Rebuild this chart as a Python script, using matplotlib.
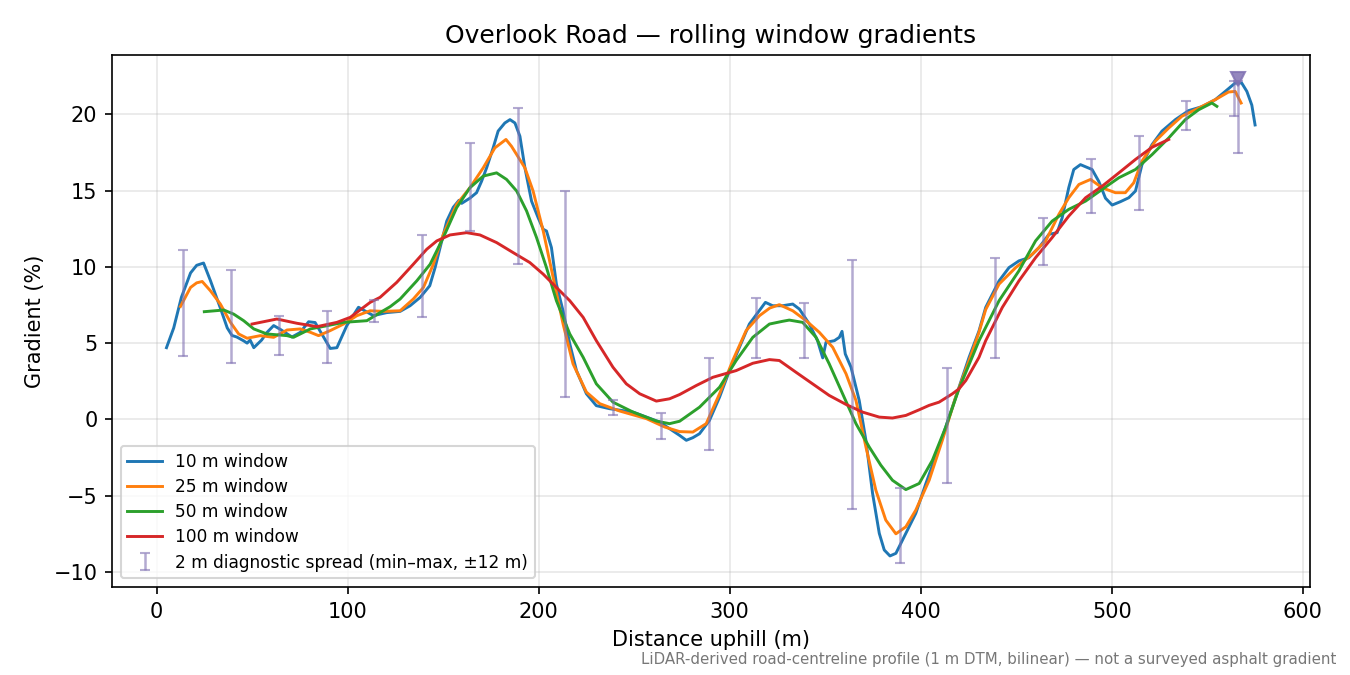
import numpy as np
import matplotlib
matplotlib.use("Agg")
import matplotlib.pyplot as plt

# 10 m window
d10 = [5.2, 9, 13, 17.8, 21, 24.6, 28.2, 33.4, 37, 39.5, 42, 45.6, 47.4, 49, 50.9, 55, 57.8, 61.3,
       64.8, 70.9, 75.2, 79.6, 83, 87.4, 90.9, 94.4, 99.6, 105.7, 113.5, 117, 120.5, 127.5, 132.7,
       138, 143, 145.8, 148.4, 151.9, 155.3, 158.3, 159.7, 164, 167.5, 170.1, 172.8, 176.2, 178.8,
       182.3, 185, 187.6, 190.2, 192.8, 196.3, 199.8, 202.4, 204.1, 206.7, 209.3, 212.8, 216.3,
       219.8, 225, 230.2, 237.2, 249.4, 263.3, 273.8, 277.3, 280.7, 284.2, 289.4, 294.7, 299.9,
       305.1, 310.3, 314.7, 318.7, 322.5, 327.7, 333, 336.5, 341.7, 346, 348.7, 350.4, 354.8,
       357.4, 358.8, 360.5, 363.5, 367.8, 371.3, 374.8, 378.3, 380.9, 383.9, 387, 392.2, 397.4,
       402.7, 409.6, 414.8, 420, 425.3, 430.5, 434, 441, 446.2, 451.4, 456.6, 461.9, 467.1,
       471.4, 474, 477.5, 480.1, 483.6, 489.7, 493.2, 496.7, 500.2, 504.5, 508.9, 512.4, 515.8,
       521, 526.3, 533.3, 540.2, 547.2, 554.2, 559.4, 564.6, 568, 570.7, 573.3, 575]
g10 = [4.7, 6.0, 8.0, 9.6, 10.1, 10.25, 9.1, 7.3, 6.0, 5.5, 5.4, 5.15, 5.0, 5.2, 4.7, 5.2, 5.7, 6.15,
       5.9, 5.4, 5.7, 6.4, 6.35, 5.4, 4.65, 4.7, 6.15, 7.35, 6.8, 6.9, 7.0, 7.08, 7.45,
       8.0, 8.76, 9.95, 11.26, 13.0, 13.9, 14.36, 14.16, 14.5, 14.86, 15.6, 16.5, 17.8, 18.9,
       19.43, 19.65, 19.43, 18.56, 16.5, 14.3, 13.2, 12.46, 12.35, 11.26, 8.87, 7.1, 4.95,
       3.2, 1.68, 0.9, 0.7, 0.48, -0.17, -1.05, -1.37, -1.2, -0.94, -0.07, 1.46, 3.2,
       4.73, 6.25, 7.0, 7.67, 7.45, 7.45, 7.56, 7.23, 6.25, 5.16, 4.03, 5.05, 5.16,
       5.38, 5.77, 4.29, 3.42, 1.24, -1.37, -4.86, -7.47, -8.56, -8.95, -8.78, -7.47, -6.16,
       -4.2, -1.8, 0.15, 2.1, 4.07, 5.8, 7.34, 9.08, 9.95, 10.39, 10.6, 11.26, 12.13,
       12.24, 13.2, 15.2, 16.38, 16.7, 16.38, 15.6, 14.5, 14.05, 14.27, 14.53, 14.97, 16.7,
       18.0, 18.9, 19.65, 20.24, 20.5, 20.96, 21.5, 22.05, 22.05, 21.5, 20.6, 19.3]

# 25 m window
d25 = [12.5, 17.8, 21, 23.9, 28.2, 33.4, 38.7, 43, 47.4, 54.3, 61.3, 68.3, 75.2, 80.5, 84.8, 90.9,
       97.9, 104.9, 111.8, 118.8, 127.5, 134.4, 139.7, 144.9, 150.1, 157.1, 164, 171, 177.1,
       182.9, 185.8, 188.5, 192.8, 197.1, 202.4, 207.6, 212.8, 218, 225, 232, 242.4, 256.4, 266,
       273.8, 280.7, 287.7, 294.7, 301.6, 308.6, 315.6, 321, 326, 333, 340, 346.9, 353.9, 360.9,
       366.1, 371.3, 376.5, 381.7, 387, 392.2, 397.4, 404.4, 411.3, 418.3, 425.3, 430.5, 434,
       441, 449.7, 458.4, 465.4, 472.3, 477.5, 482.8, 488.9, 495, 501.9, 507.1, 511.5, 515.8,
       522.8, 529.8, 536.7, 545.5, 554.2, 561.1, 564.6, 567.7]
g25 = [7.4, 8.65, 8.95, 9.04, 8.43, 7.56, 6.36, 5.6, 5.32, 5.49, 5.38, 5.86, 5.93, 5.71, 5.49, 5.82,
       6.25, 6.8, 7.12, 7.08, 7.12, 7.89, 8.65, 10.17, 12.13, 14.1, 15.18, 16.49, 17.8,
       18.35, 17.9, 17.36, 16.49, 14.97, 12.35, 9.3, 6.25, 3.64, 1.79, 1.03, 0.55, 0.05, -0.5,
       -0.8, -0.83, -0.28, 1.68, 3.86, 5.82, 6.8, 7.3, 7.52, 7.12, 6.47, 5.71, 4.73, 2.99,
       1.24, -1.8, -4.64, -6.6, -7.5, -7.04, -5.95, -3.99, -1.37, 1.46, 3.86, 5.71, 7.2,
       8.87, 9.95, 10.83, 11.7, 13.44, 14.53, 15.4, 15.73, 15.18, 14.86, 14.86, 15.51, 16.93,
       18.24, 19.1, 19.87, 20.41, 20.96, 21.46, 21.5, 20.74]

# 50 m window
d50 = [25, 35.2, 40.4, 45.6, 50.9, 57.8, 68.3, 71.7, 80.5, 89.2, 97.9, 110.1, 117, 122.3, 127.5,
       136.2, 143.2, 150.1, 157.1, 164, 171, 178, 183.2, 188.5, 193.7, 198.9, 204.1, 209.3,
       216.3, 223.3, 230.2, 238.9, 249.4, 261.6, 268.5, 273.8, 284.2, 294.7, 303.4, 312.1,
       320.8, 327.7, 331.2, 338.2, 345.2, 352.1, 359.1, 366.1, 373, 379.1, 385.2, 392.2, 399.2,
       406.1, 413.1, 420, 430.5, 441, 451.4, 460.1, 468.8, 477.5, 486.3, 495, 503.7, 512.4,
       521.1, 529.8, 538.5, 545.5, 552.4, 555]
g50 = [7.06, 7.17, 6.9, 6.47, 5.93, 5.6, 5.49, 5.38, 5.93, 6.14, 6.36, 6.47, 7.0, 7.39, 7.89,
       9.08, 10.17, 11.92, 13.88, 15.18, 15.95, 16.16, 15.73, 14.97, 13.66, 11.92, 9.95, 7.78,
       5.6, 4.07, 2.33, 1.13, 0.48, -0.11, -0.28, -0.12, 0.8, 2.11, 3.86, 5.38,
       6.25, 6.43, 6.51, 6.36, 5.38, 3.64, 1.68, -0.28, -1.8, -3.0, -3.99, -4.6, -4.2,
       -2.68, -0.5, 2.0, 5.16, 7.78, 9.74, 11.7, 13.0, 13.77, 14.31, 15.08, 15.84, 16.38,
       17.36, 18.45, 19.65, 20.3, 20.74, 20.52]

# 100 m window
d100 = [50, 63, 73.5, 84, 94.4, 101.4, 111.8, 117, 125.7, 134.4, 141.4, 146.7, 153.6, 162.3, 169.3,
        178, 186.7, 195.4, 202.4, 209.3, 216.3, 223.3, 230.2, 238.9, 245.9, 252.9, 261.6, 268.5,
        273.8, 282.5, 291.2, 303.4, 312.1, 320.8, 326, 334.7, 343.4, 352.1, 360.9, 369.5, 378.3,
        385.2, 392.2, 399.2, 404.4, 409.6, 416.6, 420, 423.6, 430.5, 434, 442.7, 451.4, 460.1,
        468.8, 477.5, 486.3, 495, 503.7, 512.4, 521.1, 529.8]
g100 = [6.25, 6.58, 6.3, 6.08, 6.36, 6.69, 7.67, 8.0, 8.98, 10.17, 11.15, 11.7, 12.09, 12.24, 12.09,
        11.59, 10.93, 10.28, 9.52, 8.65, 7.78, 6.69, 5.16, 3.42, 2.33, 1.68, 1.2, 1.35,
        1.63, 2.22, 2.76, 3.2, 3.68, 3.92, 3.86, 3.09, 2.33, 1.57, 0.98, 0.48, 0.15,
        0.09, 0.26, 0.63, 0.92, 1.13, 1.68, 2.0, 2.55, 4.07, 5.16, 7.34, 9.08, 10.6,
        11.92, 13.33, 14.53, 15.29, 16.16, 17.04, 17.84, 18.35]

# 2 m diagnostic spread (min-max)
spread_x = [14, 39, 64, 89, 114, 139, 164, 189, 214, 239, 264, 289, 314, 339, 364, 389, 414,
            439, 464, 489, 514, 539, 564, 566]
spread_lo = [4.15, 3.7, 4.25, 3.7, 6.4, 6.7, 12.35, 10.2, 1.45, 0.3, -1.3, -2.0, 4.05, 4.0, -5.9,
             -9.4, -4.15, 4.05, 10.15, 13.5, 13.75, 18.95, 19.9, 17.45]
spread_hi = [11.1, 9.8, 6.8, 7.1, 7.8, 12.1, 18.1, 20.4, 15.0, 1.3, 0.45, 4.05, 7.95, 7.65, 10.45,
             -4.5, 3.4, 10.6, 13.2, 17.05, 18.55, 20.85, 22.2, 22.2]

peak_x = 566
peak_g = 22.3

fig = plt.figure(figsize=(9, 4.5), dpi=150)
ax = fig.add_subplot(111)
fig.subplots_adjust(left=0.083, right=0.970, top=0.9185, bottom=0.1304)

ax.plot(d10, g10, color='tab:blue', lw=1.4, label='10 m window')
ax.plot(d25, g25, color='tab:orange', lw=1.4, label='25 m window')
ax.plot(d50, g50, color='tab:green', lw=1.4, label='50 m window')
ax.plot(d100, g100, color='tab:red', lw=1.4, label='100 m window')

lo = np.array(spread_lo)
hi = np.array(spread_hi)
mid = (lo + hi) / 2
ax.errorbar(spread_x, mid, yerr=[mid - lo, hi - mid], fmt='none', ecolor='#8172b3',
            elinewidth=1.2, capsize=2.5, alpha=0.6,
            label='2 m diagnostic spread (min\u2013max, \u00b112 m)')
ax.plot([peak_x], [peak_g], marker='v', ms=7, color='#8172b3', alpha=0.85, ls='none')

ax.grid(True, alpha=0.3)
ax.set_xlabel('Distance uphill (m)')
ax.set_ylabel('Gradient (%)')
ax.set_title('Overlook Road \u2014 rolling window gradients')
ax.legend(loc='lower left', fontsize=8.2, labelspacing=0.42)

fig.text(0.99, 0.012, 'LiDAR-derived road-centreline profile (1 m DTM, bilinear) \u2014 not a surveyed asphalt gradient',
         ha='right', va='bottom', fontsize=7.2, color='#777777')

fig.savefig('out.png', dpi=150)
